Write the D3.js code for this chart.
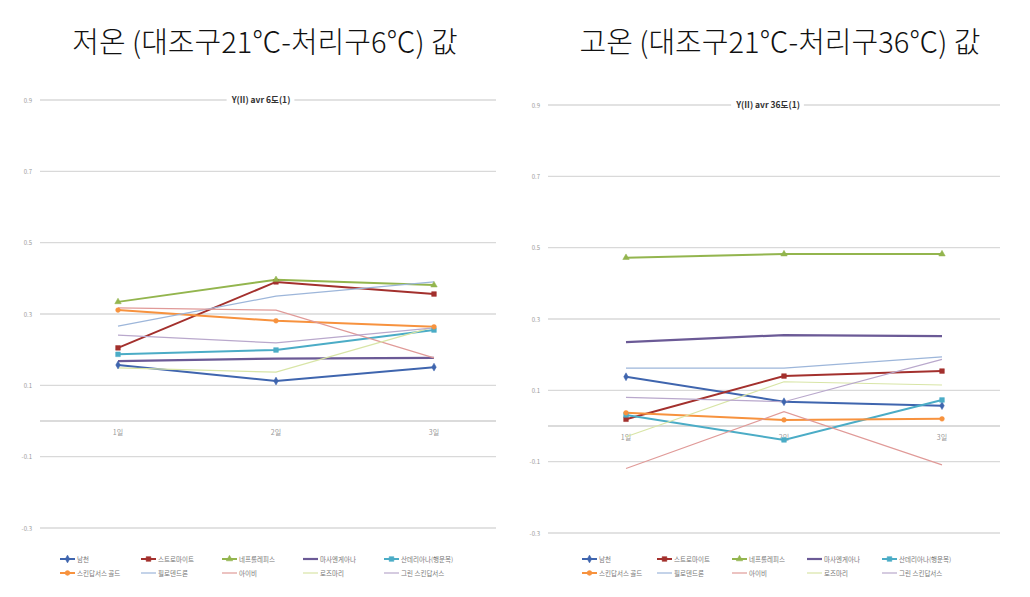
<!DOCTYPE html>
<html><head><meta charset="utf-8">
<script src="https://cdn.jsdelivr.net/npm/d3@7"></script>
<style>
body{margin:0;background:#fff;}
svg{display:block;font-family:"Noto Sans CJK KR","Noto Sans",sans-serif;}
</style></head>
<body><svg id="c" width="1030" height="597"></svg>
<script>
const categories = ["1일","2일","3일"];
const seriesNames = ["남천","스트로마이트","네프롤레피스","마사엔게아나","산데리아나(행운목)",
                     "스킨답서스 골드","필로덴드론","아이비","로즈마리","그린 스킨답서스"];
const yTicks = [-0.3,-0.1,0.1,0.3,0.5,0.7,0.9];
// low temperature (6°C) values
const lowValues = [
  [0.157,0.112,0.151],
  [0.205,0.390,0.356],
  [0.334,0.396,0.381],
  [0.168,0.175,0.177],
  [0.187,0.199,0.255],
  [0.311,0.281,0.264],
  [0.266,0.350,0.390],
  [0.317,0.311,0.177],
  [0.149,0.137,0.264],
  [0.241,0.219,0.261]
];
// high temperature (36°C) values
const highValues = [
  [0.138,0.068,0.057],
  [0.019,0.140,0.154],
  [0.472,0.482,0.482],
  [0.235,0.255,0.252],
  [0.031,-0.039,0.073],
  [0.037,0.017,0.020],
  [0.162,0.162,0.194],
  [-0.119,0.040,-0.109],
  [-0.030,0.124,0.115],
  [0.080,0.068,0.187]
];
const colors = ["#3F65AE","#A3302D","#93B54E","#6B5A96","#4BACC6","#F7923E","#9DB6DA","#E09A98","#D8E5A6","#B9A8CC"];
const widths = [2,2,2,2.2,2,2,1.2,1.2,1.2,1.2];
const markers = ["diamond","square","triangle","none","square","circle","none","none","none","none"];

const svg = d3.select("#c");

function marker(g, type, x, y, c){
  if(type==="none") return;
  const sym = {diamond:d3.symbolDiamond, square:d3.symbolSquare, triangle:d3.symbolTriangle, circle:d3.symbolCircle}[type];
  g.append("path").attr("d", d3.symbol().type(sym).size(type==="square"?22:18)())
    .attr("transform",`translate(${x},${y})`).attr("fill",c).attr("stroke",c).attr("stroke-width",0.5);
}

function chart(cfg){
  const g = svg.append("g");
  const y = d3.scaleLinear().domain([-0.3,0.9]).range([cfg.yBottom, cfg.yTop]);
  const x = d3.scalePoint().domain(categories).range([cfg.x1, cfg.x3]);
  // big heading
  svg.append("text").attr("x",cfg.headX).attr("y",53).attr("text-anchor","middle")
    .attr("font-size",29).attr("font-weight",300).attr("fill","#111").text(cfg.heading);
  // gridlines
  g.selectAll(".grid").data(yTicks).join("line")
    .attr("x1",cfg.gx0).attr("x2",cfg.gx1).attr("y1",d=>y(d)).attr("y2",d=>y(d))
    .attr("stroke","#d9d9d9").attr("stroke-width",1.3);
  g.selectAll(".tl").data(yTicks).join("text")
    .attr("x",cfg.gx0-8).attr("y",d=>y(d)+2.5).attr("text-anchor","end")
    .attr("font-size",6).attr("fill","#999").text(d=>d.toFixed(1));
  // axis line at 0
  g.append("line").attr("x1",cfg.gx0).attr("x2",cfg.gx1).attr("y1",y(0)).attr("y2",y(0))
    .attr("stroke","#cfcfcf").attr("stroke-width",1.3);
  g.selectAll(".cl").data(categories).join("text")
    .attr("x",d=>x(d)).attr("y",y(0)+14).attr("text-anchor","middle")
    .attr("font-size",7).attr("fill","#999").text(d=>d);
  // small title
  const tt = g.append("text").attr("x",cfg.titleX).attr("y",cfg.yTop+3).attr("text-anchor","middle")
    .attr("font-size",8.5).attr("font-weight","bold").attr("fill","#333").text(cfg.title);
  const bb = tt.node().getBBox();
  g.insert("rect","text").attr("x",bb.x-4).attr("y",bb.y).attr("width",bb.width+8).attr("height",bb.height).attr("fill","#fff");
  // lines
  const line = d3.line().x((d,i)=>x(categories[i])).y(d=>y(d));
  cfg.values.forEach((vals,si)=>{
    g.append("path").attr("d",line(vals)).attr("fill","none")
      .attr("stroke",colors[si]).attr("stroke-width",widths[si]);
  });
  cfg.values.forEach((vals,si)=>{
    vals.forEach((v,i)=>marker(g,markers[si],x(categories[i]),y(v),colors[si]));
  });
  // legend
  seriesNames.forEach((n,si)=>{
    const col = si%5, row = Math.floor(si/5);
    const lx = cfg.legX + col*cfg.legStep, ly = 559 + row*14;
    g.append("line").attr("x1",lx).attr("x2",lx+15).attr("y1",ly).attr("y2",ly)
      .attr("stroke",colors[si]).attr("stroke-width",widths[si]);
    marker(g,markers[si],lx+7.5,ly,colors[si]);
    g.append("text").attr("x",lx+17).attr("y",ly+2.5).attr("font-size",6.5).attr("fill","#777").text(n);
  });
}

chart({heading:"저온 (대조구21℃-처리구6℃) 값", headX:265, title:"Y(II) avr 6도(1)", titleX:261,
  values:lowValues, yTop:100, yBottom:528, x1:118, x3:434, gx0:40, gx1:496, legX:60, legStep:81});
chart({heading:"고온 (대조구21℃-처리구36℃) 값", headX:780, title:"Y(II) avr 36도(1)", titleX:768,
  values:highValues, yTop:105, yBottom:533, x1:626, x3:942, gx0:548, gx1:1000, legX:582, legStep:75});
</script></body></html>
